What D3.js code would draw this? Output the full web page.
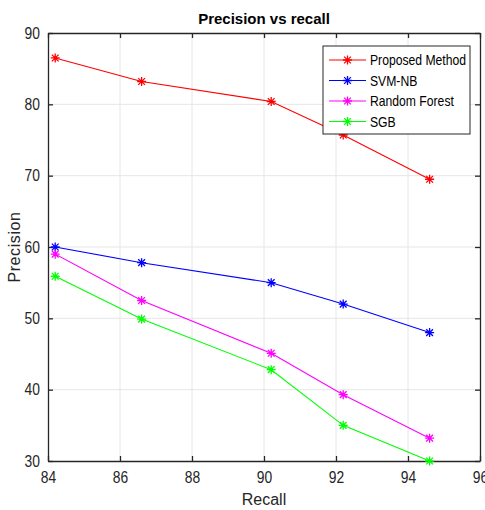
<!DOCTYPE html>
<html><head><meta charset="utf-8">
<script src="https://cdn.jsdelivr.net/npm/d3@7"></script>
<style>body{margin:0;background:#fff;} text{font-family:"Liberation Sans",Arial,sans-serif;}</style>
</head><body><svg id="c" width="485" height="510"></svg>
<script>
const recall = [84.2, 86.6, 90.2, 92.2, 94.6];
const seriesNames = ["Proposed Method", "SVM-NB", "Random Forest", "SGB"];
const seriesColors = ["#ff0000", "#0000ff", "#ff00ff", "#00ff00"];
const proposed = [86.5, 83.2, 80.4, 75.7, 69.5];
const svmnb = [60.0, 57.8, 55.0, 52.0, 48.0];
const randomForest = [59.0, 52.5, 45.1, 39.3, 33.2];
const sgb = [55.9, 49.9, 42.8, 35.0, 30.0];
const xTicks = [84, 86, 88, 90, 92, 94, 96];
const yTicks = [30, 40, 50, 60, 70, 80, 90];
const allSeries = [proposed, svmnb, randomForest, sgb];

const svg = d3.select("#c");
const L = 48, R = 480, T = 33, B = 461;
const x = d3.scaleLinear().domain([84, 96]).range([L, R]);
const y = d3.scaleLinear().domain([30, 90]).range([B, T]);
const SX = 0.84;

// grid
svg.append("g").selectAll("line").data(xTicks.slice(1, -1)).join("line")
  .attr("x1", d => x(d)).attr("x2", d => x(d)).attr("y1", T).attr("y2", B)
  .attr("stroke", "#e6e6e6").attr("stroke-width", 1);
svg.append("g").selectAll("line").data(yTicks.slice(1, -1)).join("line")
  .attr("y1", d => y(d)).attr("y2", d => y(d)).attr("x1", L).attr("x2", R)
  .attr("stroke", "#e6e6e6").attr("stroke-width", 1);

// axes
const axB = svg.append("g").attr("transform", `translate(0,${B})`)
  .call(d3.axisBottom(x).tickValues(xTicks).tickSizeInner(-5).tickSizeOuter(0).tickPadding(10));
const axT = svg.append("g").attr("transform", `translate(0,${T})`)
  .call(d3.axisTop(x).tickValues(xTicks).tickSizeInner(-5).tickSizeOuter(0).tickFormat(""));
const axL = svg.append("g").attr("transform", `translate(${L},0)`)
  .call(d3.axisLeft(y).tickValues(yTicks).tickSizeInner(-5).tickSizeOuter(0).tickPadding(8));
const axR = svg.append("g").attr("transform", `translate(${R},0)`)
  .call(d3.axisRight(y).tickValues(yTicks).tickSizeInner(-5).tickSizeOuter(0).tickFormat(""));
[axB, axT, axL, axR].forEach(a => {
  a.selectAll("path,line").attr("stroke", "#262626").attr("stroke-width", 1.3);
});
axB.selectAll("text").attr("font-size", 16.5).attr("fill", "#262626")
  .attr("transform", `scale(${SX},1)`)
  .attr("x", function() { return 0; });
// scale around each tick center: tick groups are translated, so scale within group is fine
axL.selectAll("text").attr("font-size", 16.5).attr("fill", "#262626")
  .attr("transform", `scale(${SX},1)`)
  .attr("x", -8 / SX);
axB.selectAll("text").attr("dy", "0.71em").attr("y", 10);

// asterisk marker
function star(g, cx, cy, color) {
  const s = 4.5, d = s * 0.75;
  const p = `M${cx - s},${cy}L${cx + s},${cy}M${cx},${cy - s}L${cx},${cy + s}` +
    `M${cx - d},${cy - d}L${cx + d},${cy + d}M${cx - d},${cy + d}L${cx + d},${cy - d}`;
  g.append("path").attr("d", p).attr("stroke", color).attr("stroke-width", 1.3).attr("fill", "none");
}

const line = d3.line().x((d, i) => x(recall[i])).y(d => y(d));
allSeries.forEach((vals, si) => {
  const g = svg.append("g");
  g.append("path").datum(vals).attr("d", line).attr("fill", "none")
    .attr("stroke", seriesColors[si]).attr("stroke-width", 1.1);
  vals.forEach((v, i) => star(g, x(recall[i]), y(v), seriesColors[si]));
});

// title & labels
svg.append("text").attr("x", (L + R) / 2).attr("y", 24).attr("text-anchor", "middle")
  .attr("font-size", 15).attr("font-weight", "bold").attr("fill", "#000").text("Precision vs recall");
svg.append("text").attr("x", (L + R) / 2).attr("y", 505).attr("text-anchor", "middle")
  .attr("font-size", 16).attr("fill", "#262626").text("Recall");
svg.append("text").attr("transform", `translate(20,${(T + B) / 2}) rotate(-90)`).attr("text-anchor", "middle")
  .attr("font-size", 16).attr("letter-spacing", 0.6).attr("fill", "#262626").text("Precision");

// legend
const lg = svg.append("g");
lg.append("rect").attr("x", 323).attr("y", 46).attr("width", 147).attr("height", 88)
  .attr("fill", "#fff").attr("stroke", "#262626").attr("stroke-width", 1);
seriesNames.forEach((n, i) => {
  const yy = 60 + i * 20.5;
  lg.append("line").attr("x1", 329).attr("x2", 366).attr("y1", yy).attr("y2", yy)
    .attr("stroke", seriesColors[i]).attr("stroke-width", 1.1);
  star(lg, 347.5, yy, seriesColors[i]);
  lg.append("text").attr("transform", `translate(370,${yy + 5}) scale(${SX},1)`)
    .attr("font-size", 14.5).attr("fill", "#000").text(n);
});
</script></body></html>
